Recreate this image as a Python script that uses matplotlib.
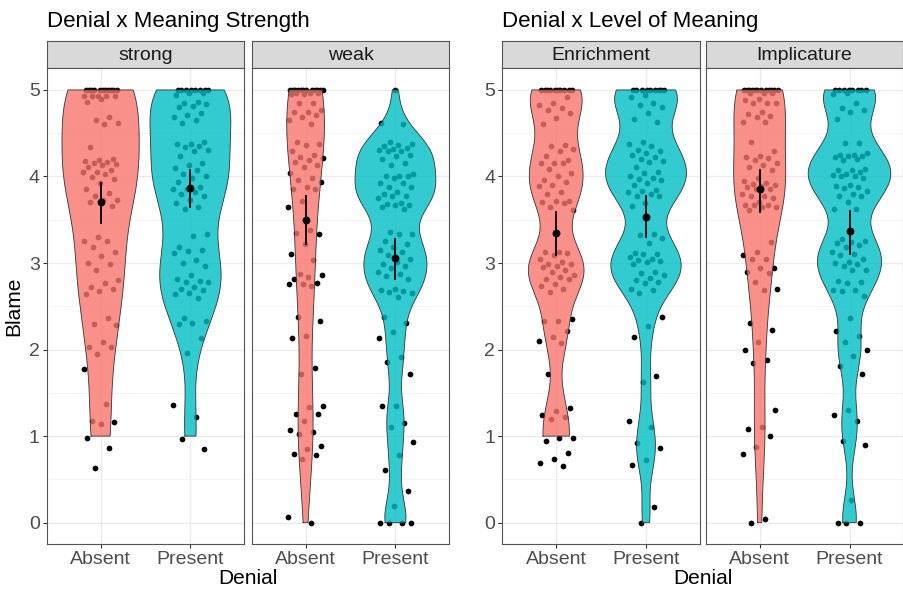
import numpy as np
import matplotlib
matplotlib.use('Agg')
from matplotlib import pyplot as plt

plt.rcParams['font.family'] = ['Liberation Sans', 'DejaVu Sans']

DENIAL = ['Absent', 'Present']
COLORS = ['#F8766D', '#00BFC4']

# --- left plot: Denial x Meaning Strength ---
strength_facets = ['strong', 'weak']

blame_strong_absent = [
    5.0, 5.0, 5.0, 5.0, 5.0, 5.0, 5.0, 5.0, 5.0, 5.0, 5.0,
    4.93, 4.93, 4.93, 4.93, 4.93, 4.89, 4.86, 4.69, 4.65, 4.62, 4.61,
    4.34, 4.2, 4.19, 4.18, 4.17, 4.15, 4.14, 4.13, 4.11, 4.08, 4.05,
    4.05, 4.03, 3.99, 3.97, 3.92, 3.86, 3.81, 3.77, 3.73, 3.73, 3.71,
    3.66, 3.3, 3.26, 3.26, 3.19, 3.13, 3.08, 3.0, 2.99, 2.92, 2.8,
    2.77, 2.72, 2.7, 2.68, 2.64, 2.36, 2.3, 2.28, 2.09, 2.03, 2.03,
    1.95, 1.78, 1.37, 1.17, 1.16, 1.14, 0.98, 0.86, 0.63,
]
blame_strong_present = [
    5.0, 5.0, 5.0, 5.0, 5.0, 5.0, 5.0, 5.0, 4.96, 4.96, 4.94,
    4.86, 4.85, 4.84, 4.81, 4.8, 4.73, 4.71, 4.69, 4.65, 4.62, 4.4,
    4.38, 4.37, 4.35, 4.34, 4.31, 4.29, 4.24, 4.15, 4.13, 4.1, 4.08,
    4.03, 4.0, 3.98, 3.94, 3.88, 3.86, 3.85, 3.82, 3.8, 3.77, 3.73,
    3.69, 3.65, 3.63, 3.34, 3.31, 3.19, 3.15, 3.14, 3.12, 3.04, 3.0,
    2.96, 2.86, 2.82, 2.79, 2.78, 2.78, 2.72, 2.7, 2.69, 2.65, 2.64,
    2.6, 2.37, 2.33, 2.31, 2.3, 2.13, 1.96, 1.36, 1.22, 0.97, 0.85,
]
blame_weak_absent = [
    5.0, 5.0, 5.0, 5.0, 5.0, 5.0, 5.0, 5.0, 5.0, 5.0, 5.0, 5.0,
    4.97, 4.96, 4.96, 4.95, 4.95, 4.85, 4.85, 4.77, 4.75, 4.74, 4.71,
    4.69, 4.65, 4.61, 4.4, 4.38, 4.36, 4.3, 4.25, 4.23, 4.21, 4.19,
    4.17, 4.13, 4.11, 4.04, 3.98, 3.96, 3.94, 3.88, 3.86, 3.85, 3.72,
    3.65, 3.38, 3.35, 3.34, 3.22, 3.1, 3.04, 2.87, 2.86, 2.84, 2.81,
    2.77, 2.76, 2.76, 2.73, 2.38, 2.33, 2.16, 2.13, 1.79, 1.72, 1.35,
    1.34, 1.26, 1.25, 1.17, 1.07, 1.05, 1.03, 0.89, 0.85, 0.79, 0.78,
    0.74, 0.07, 0.0,
]
blame_weak_present = [
    5.0, 4.62, 4.61, 4.4, 4.37, 4.36, 4.35, 4.33, 4.32, 4.31, 4.3,
    4.29, 4.25, 4.24, 4.2, 4.15, 4.13, 4.03, 4.0, 4.0, 4.0, 3.98,
    3.93, 3.93, 3.88, 3.88, 3.82, 3.8, 3.77, 3.77, 3.75, 3.69, 3.68,
    3.67, 3.67, 3.65, 3.63, 3.36, 3.34, 3.33, 3.26, 3.22, 3.19, 3.15,
    3.13, 3.09, 3.05, 3.01, 2.99, 2.97, 2.94, 2.9, 2.87, 2.85, 2.82,
    2.7, 2.69, 2.68, 2.67, 2.65, 2.61, 2.38, 2.31, 2.2, 2.13, 1.91,
    1.86, 1.72, 1.35, 1.35, 1.15, 1.1, 0.93, 0.78, 0.61, 0.37, 0.19,
    0.0, 0.0, 0.0, 0.0,
]
violin_low_strength = [[1, 1], [0, 0]]
violin_high_strength = [[5, 5], [5, 5]]
mean_strength = [[3.70, 3.87], [3.50, 3.06]]
ci_low_strength = [[3.46, 3.65], [3.22, 2.82]]
ci_high_strength = [[3.92, 4.07], [3.77, 3.28]]

# --- right plot: Denial x Level of Meaning ---
level_facets = ['Enrichment', 'Implicature']

blame_enrich_absent = [
    5.0, 5.0, 5.0, 5.0, 5.0, 5.0, 5.0, 5.0, 5.0, 5.0,
    4.92, 4.85, 4.83, 4.79, 4.77, 4.73, 4.67, 4.61, 4.36, 4.35, 4.32,
    4.3, 4.24, 4.19, 4.16, 4.16, 4.16, 4.09, 4.04, 4.0, 3.96, 3.94,
    3.9, 3.89, 3.82, 3.8, 3.72, 3.72, 3.7, 3.69, 3.65, 3.61, 3.13,
    3.13, 3.12, 3.09, 3.05, 3.01, 2.99, 2.99, 2.97, 2.95, 2.92, 2.9,
    2.86, 2.84, 2.82, 2.81, 2.76, 2.73, 2.7, 2.67, 2.35, 2.33, 2.33,
    2.22, 2.14, 2.1, 2.08, 1.72, 1.32, 1.29, 1.24, 1.22, 1.2, 0.98,
    0.98, 0.94, 0.8, 0.74, 0.69, 0.65,
]
blame_enrich_present = [
    5.0, 5.0, 5.0, 5.0, 5.0, 5.0, 5.0, 5.0, 5.0,
    4.94, 4.92, 4.85, 4.83, 4.8, 4.73, 4.66, 4.63, 4.4, 4.38, 4.35,
    4.31, 4.29, 4.27, 4.25, 4.22, 4.2, 4.18, 4.17, 4.11, 4.05, 4.04,
    4.0, 3.98, 3.97, 3.96, 3.92, 3.9, 3.84, 3.83, 3.82, 3.8, 3.78,
    3.77, 3.69, 3.66, 3.34, 3.32, 3.29, 3.23, 3.12, 3.11, 3.1, 3.07,
    3.05, 3.04, 3.02, 3.01, 2.99, 2.9, 2.88, 2.86, 2.83, 2.8, 2.78,
    2.77, 2.7, 2.69, 2.65, 2.38, 2.27, 2.15, 1.69, 1.63, 1.17, 1.1,
    0.92, 0.86, 0.72, 0.67, 0.18, 0.0,
]
blame_impl_absent = [
    5.0, 5.0, 5.0, 5.0, 5.0, 5.0, 5.0, 5.0, 5.0, 5.0, 5.0, 5.0,
    4.96, 4.96, 4.96, 4.9, 4.88, 4.85, 4.85, 4.85, 4.75, 4.72, 4.7,
    4.69, 4.63, 4.63, 4.4, 4.29, 4.24, 4.22, 4.21, 4.19, 4.16, 4.13,
    4.11, 4.07, 3.98, 3.95, 3.92, 3.91, 3.9, 3.89, 3.88, 3.86, 3.85,
    3.8, 3.78, 3.77, 3.75, 3.7, 3.67, 3.67, 3.67, 3.65, 3.65, 3.61,
    3.24, 3.13, 3.09, 3.05, 3.05, 2.94, 2.94, 2.9, 2.88, 2.78, 2.7,
    2.69, 2.31, 2.23, 2.09, 1.99, 1.88, 1.84, 1.3, 1.1, 1.08, 1.0,
    0.88, 0.79, 0.04, 0.0,
]
blame_impl_present = [
    5.0, 5.0, 5.0, 5.0, 5.0, 5.0, 5.0, 5.0, 4.96, 4.95, 4.85,
    4.79, 4.77, 4.74, 4.66, 4.39, 4.39, 4.27, 4.25, 4.25, 4.24, 4.24,
    4.23, 4.2, 4.19, 4.09, 4.08, 4.07, 4.05, 4.03, 4.02, 4.0, 4.0,
    3.98, 3.9, 3.89, 3.88, 3.87, 3.83, 3.8, 3.77, 3.77, 3.71, 3.63,
    3.62, 3.28, 3.26, 3.24, 3.23, 3.21, 3.19, 3.13, 3.11, 3.09, 3.05,
    3.01, 3.0, 2.99, 2.96, 2.92, 2.92, 2.79, 2.78, 2.77, 2.69, 2.69,
    2.68, 2.62, 2.37, 2.21, 2.16, 2.09, 1.99, 1.93, 1.81, 1.72, 1.3,
    1.24, 1.17, 0.94, 0.9, 0.26, 0.0, 0.0, 0.0,
]
violin_low_level = [[1, 0], [0, 0]]
violin_high_level = [[5, 5], [5, 5]]
mean_level = [[3.35, 3.53], [3.86, 3.37]]
ci_low_level = [[3.09, 3.30], [3.59, 3.11]]
ci_high_level = [[3.59, 3.77], [4.08, 3.60]]

# kernel bandwidth multipliers (smooth vs. lumpy violins) and widest half-width
bw_strength = [[1.0, 0.9], [1.0, 0.55]]
bw_level = [[0.6, 0.6], [0.9, 0.6]]
half_width_strength = [[0.43, 0.45], [0.21, 0.45]]
half_width_level = [[0.31, 0.45], [0.29, 0.46]]

W, H = 904, 590


def px_axes(fig, x0, y0, x1, y1):
    return fig.add_axes([x0 / W, 1 - y1 / H, (x1 - x0) / W, (y1 - y0) / H])


def kde(vals, grid, adjust):
    v = np.asarray(vals, float)
    n = len(v)
    iqr = np.subtract(*np.percentile(v, [75, 25]))
    bw = adjust * 0.9 * min(v.std(ddof=1), iqr / 1.34) * n ** -0.2
    z = (grid[:, None] - v[None, :]) / bw
    return np.exp(-0.5 * z ** 2).sum(1) / (n * bw * np.sqrt(2 * np.pi))


def draw_plot(fig, title, facets, groups, lows, highs, means, ci_lo, ci_hi,
              bws, half_widths, lefts, ylabel):
    top, strip_bot, bot = 40.7, 68.3, 544.3
    width = 197.6
    for f, x0 in enumerate(lefts):
        strip = px_axes(fig, x0, top, x0 + width, strip_bot)
        strip.set_facecolor('#D9D9D9')
        strip.set_xticks([])
        strip.set_yticks([])
        for s in strip.spines.values():
            s.set_color('#555555')
            s.set_linewidth(0.8)
        strip.text(0.5, 0.45, facets[f], ha='center', va='center',
                   fontsize=14, color='#1A1A1A', transform=strip.transAxes)

        ax = px_axes(fig, x0, strip_bot, x0 + width, bot)
        for i in range(2):
            xc = i + 1
            vals = np.asarray(groups[f][i])
            jit = (((np.arange(len(vals)) + 1) * 0.6180339887 + 0.29 * (2 * f + i)) % 1 - 0.5) * 0.4
            ax.scatter(xc + jit, vals, s=17, color='black', lw=0, zorder=2)

            g = np.linspace(lows[f][i], highs[f][i], 512)
            d = kde(vals, g, bws[f][i])
            w = d / d.max() * half_widths[f][i]
            xs = np.r_[xc - w, (xc + w)[::-1], xc - w[0]]
            ys = np.r_[g, g[::-1], g[0]]
            ax.fill(xs, ys, facecolor=COLORS[i], alpha=0.8, edgecolor='none', zorder=3)
            ax.plot(xs, ys, color='#333333', lw=0.6, zorder=4)

            ax.plot([xc, xc], [ci_lo[f][i], ci_hi[f][i]], color='black', lw=1.3, zorder=5)
            ax.scatter([xc], [means[f][i]], s=32, color='black', lw=0, zorder=6)

        ax.set_xlim(0.4, 2.6)
        ax.set_ylim(-0.25, 5.25)
        ax.set_xticks([1, 2])
        ax.set_xticklabels(DENIAL)
        ax.set_yticks(range(6))
        ax.set_yticks(np.arange(0.5, 5, 1), minor=True)
        ax.grid(which='major', color='#EBEBEB', lw=1.0, zorder=0)
        ax.grid(which='minor', axis='y', color='#F3F3F3', lw=0.6, zorder=0)
        ax.set_axisbelow(True)
        ax.tick_params(which='major', length=3, width=0.8, color='#333333',
                       labelsize=14, labelcolor='#4D4D4D', pad=2)
        ax.tick_params(which='minor', length=0)
        if f == 1:
            ax.tick_params(axis='y', length=0, labelleft=False)
        for s in ax.spines.values():
            s.set_color('#555555')
            s.set_linewidth(0.8)

    fig.text(lefts[0] / W, 1 - 21 / H, title, fontsize=16, va='center', ha='left')
    mid = (lefts[0] + lefts[1] + width) / 2
    fig.text(mid / W, 1 - 579 / H, 'Denial', fontsize=15, ha='center', va='center')
    if ylabel:
        fig.text(14 / W, 1 - (strip_bot + bot) / 2 / H, ylabel, fontsize=15,
                 rotation=90, ha='center', va='center')


fig = plt.figure(figsize=(W / 100, H / 100), dpi=100)

draw_plot(fig, 'Denial x Meaning Strength', strength_facets,
          [[blame_strong_absent, blame_strong_present], [blame_weak_absent, blame_weak_present]],
          violin_low_strength, violin_high_strength,
          mean_strength, ci_low_strength, ci_high_strength,
          bw_strength, half_width_strength, [46.7, 251.7], 'Blame')

draw_plot(fig, 'Denial x Level of Meaning', level_facets,
          [[blame_enrich_absent, blame_enrich_present], [blame_impl_absent, blame_impl_present]],
          violin_low_level, violin_high_level,
          mean_level, ci_low_level, ci_high_level,
          bw_level, half_width_level, [502.3, 705.8], None)

fig.savefig('out.png', dpi=100)
plt.close(fig)
